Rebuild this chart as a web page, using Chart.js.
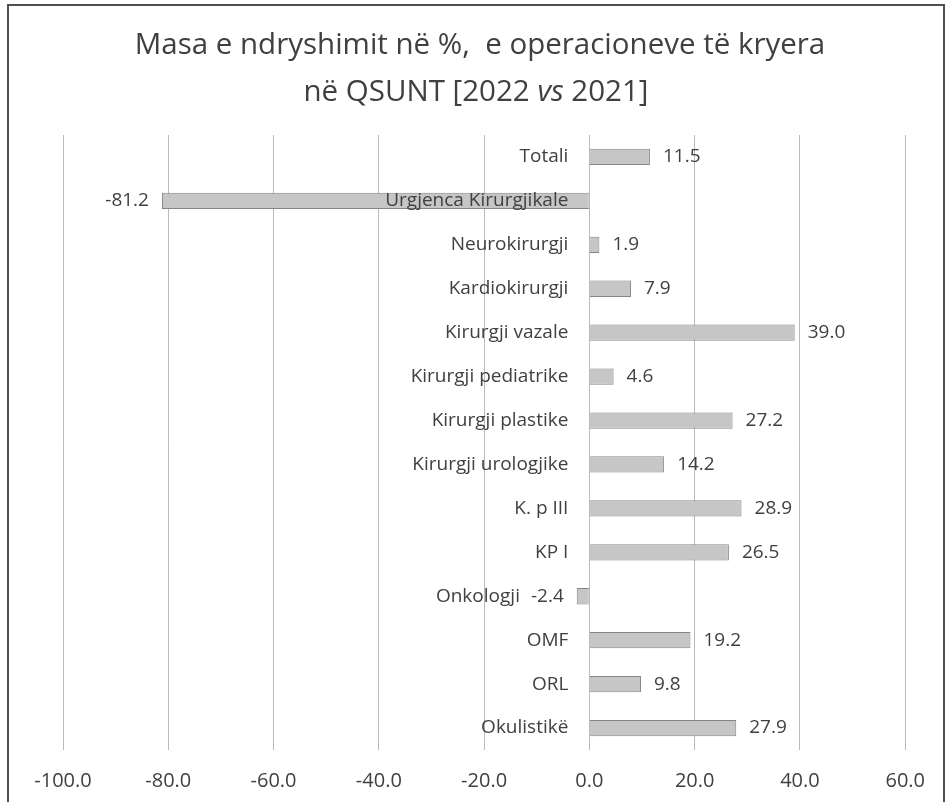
<!DOCTYPE html>
<html lang="sq">
<head>
  <meta charset="UTF-8">
  <title>Masa e ndryshimit në %</title>
  <script src="https://cdn.jsdelivr.net/npm/chart.js"></script>
  <style>
    html, body { margin: 0; padding: 0; background: #fff; }
  </style>
</head>
<body>
  <canvas id="chart" width="946" height="802"></canvas>

  <script>
    const categories = ['Totali', 'Urgjenca Kirurgjikale', 'Neurokirurgji', 'Kardiokirurgji', 'Kirurgji vazale',
      'Kirurgji pediatrike', 'Kirurgji plastike', 'Kirurgji urologjike', 'K. p III', 'KP I', 'Onkologji',
      'OMF', 'ORL', 'Okulistikë'];
    const changes = [11.5, -81.2, 1.9, 7.9, 39.0, 4.6, 27.2, 14.2, 28.9, 26.5, -2.4, 19.2, 9.8, 27.9];
    const titleLine1 = 'Masa e ndryshimit në %,  e operacioneve të kryera';
    const titleLine2 = ['në QSUNT [2022 ', 'vs', ' 2021]'];
    const axisMin = -100, axisMax = 60, axisStep = 20;

    const textColor = '#404040';
    const fontFamily = '"Open Sans", "Noto Sans", sans-serif';

    // frame + title, drawn by hand so "vs" can be italic
    const frameAndTitle = {
      id: 'frameAndTitle',
      beforeDraw(chart) {
        const ctx = chart.ctx;
        ctx.save();
        ctx.strokeStyle = '#505050';
        ctx.lineWidth = 2;
        ctx.strokeRect(8, 5, 936, 830);

        ctx.fillStyle = textColor;
        ctx.textBaseline = 'middle';
        ctx.textAlign = 'center';
        ctx.font = '29.5px ' + fontFamily;
        ctx.fillText(titleLine1, 480, 46);

        // second line in three pieces
        const fonts = ['29.5px ' + fontFamily, 'italic 29.5px ' + fontFamily, '29.5px ' + fontFamily];
        let total = 0;
        const widths = titleLine2.map((t, i) => {
          ctx.font = fonts[i];
          const w = ctx.measureText(t).width;
          total += w;
          return w;
        });
        let x = 476 - total / 2;
        ctx.textAlign = 'left';
        titleLine2.forEach((t, i) => {
          ctx.font = fonts[i];
          ctx.fillText(t, x, 93);
          x += widths[i];
        });
        ctx.restore();
      }
    };

    // category names next to the zero line + value labels at bar ends
    const barLabels = {
      id: 'barLabels',
      afterDatasetsDraw(chart) {
        const ctx = chart.ctx;
        const xs = chart.scales.x;
        const meta = chart.getDatasetMeta(0);
        const zero = xs.getPixelForValue(0);
        ctx.save();
        ctx.fillStyle = textColor;
        ctx.textBaseline = 'middle';
        meta.data.forEach((bar, i) => {
          const v = changes[i];
          const y = bar.y;
          const txt = v.toFixed(1);

          ctx.font = '19px ' + fontFamily;
          const vw = ctx.measureText(txt).width;
          let vx;
          if (v >= 0) {
            ctx.textAlign = 'left';
            vx = bar.x + 13;
          } else {
            ctx.textAlign = 'right';
            vx = bar.x - 13;
          }
          ctx.fillText(txt, vx, y);

          ctx.font = '19px ' + fontFamily;
          const cw = ctx.measureText(categories[i]).width;
          let right = zero - 21;
          if (v < 0 && vx > right - cw) right = vx - vw - 11;
          ctx.textAlign = 'right';
          ctx.fillText(categories[i], right, y);
        });
        ctx.restore();
      }
    };

    new Chart(document.getElementById('chart'), {
      type: 'bar',
      data: {
        labels: categories,
        datasets: [{
          data: changes,
          backgroundColor: '#c6c6c6',
          borderColor: '#858585',
          borderWidth: 1,
          barPercentage: 1,
          categoryPercentage: 0.37
        }]
      },
      options: {
        indexAxis: 'y',
        responsive: false,
        animation: false,
        layout: { padding: { left: 63, right: 35, top: 135, bottom: -10 } },
        plugins: {
          legend: { display: false },
          tooltip: { enabled: false }
        },
        scales: {
          x: {
            min: axisMin,
            max: axisMax,
            ticks: {
              stepSize: axisStep,
              callback: v => v.toFixed(1),
              color: textColor,
              font: { size: 20, family: fontFamily, lineHeight: 1 },
              padding: 21
            },
            grid: { color: '#bababa', drawTicks: false },
            border: { display: false }
          },
          y: { display: false }
        }
      },
      plugins: [frameAndTitle, barLabels]
    });
  </script>
</body>
</html>
